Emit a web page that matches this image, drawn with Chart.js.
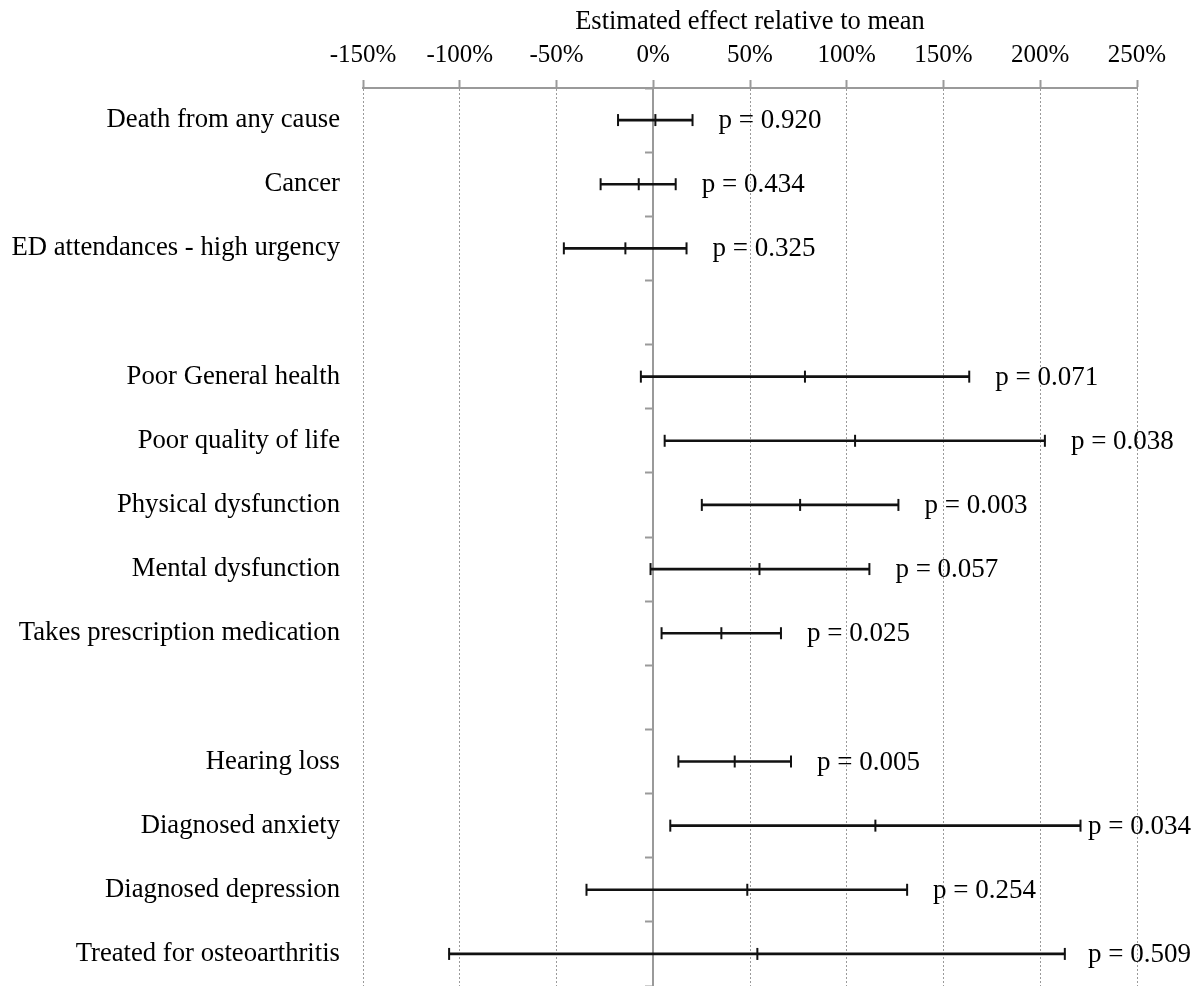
<!DOCTYPE html>
<html>
<head>
<meta charset="utf-8">
<title>Estimated effect relative to mean</title>
<script src="https://cdn.jsdelivr.net/npm/chart.js@4.4.1/dist/chart.umd.min.js"></script>
<style>
    html, body { margin: 0; padding: 0; background: #fff; }
    #wrap { width: 1199px; height: 986px; position: relative; }
</style>
</head>
<body>
<div id="wrap"><canvas id="forestChart"></canvas></div>
<script>
// Forest plot data (percent effect relative to mean)
const categories = [
    'Death from any cause',
    'Cancer',
    'ED attendances - high urgency',
    '',
    'Poor General health',
    'Poor quality of life',
    'Physical dysfunction',
    'Mental dysfunction',
    'Takes prescription medication',
    '',
    'Hearing loss',
    'Diagnosed anxiety',
    'Diagnosed depression',
    'Treated for osteoarthritis'
];
const estimates = [1.1, -7.5, -14.4, null, 78.4, 104.3, 75.9, 54.9, 35.2, null, 42.1, 114.8, 48.6, 53.8];
const lowerCI   = [-18.2, -27.2, -46.2, null, -6.4, 5.9, 25.1, -1.4, 4.3, null, 13.0, 8.8, -34.5, -105.5];
const upperCI   = [20.3, 11.6, 17.2, null, 163.3, 202.4, 126.7, 111.7, 66.0, null, 71.2, 220.8, 131.2, 212.7];
const pValues   = ['0.920', '0.434', '0.325', null, '0.071', '0.038', '0.003', '0.057', '0.025', null, '0.005', '0.034', '0.254', '0.509'];
const xTicks    = [-150, -100, -50, 0, 50, 100, 150, 200, 250];

const SERIF = '"Liberation Serif", "Times New Roman", serif';
const AXIS_GRAY = '#9a9a9a';

// Interval bars built from lower / upper arrays
const intervals = lowerCI.map((lo, i) => (lo === null ? null : [lo, upperCI[i]]));

// Draw "p = ..." next to each upper limit (kept inside the canvas)
const pLabelPlugin = {
    id: 'pLabels',
    afterDatasetsDraw(chart) {
        const { ctx, scales } = chart;
        ctx.save();
        ctx.font = '27px ' + SERIF;
        ctx.fillStyle = '#000';
        ctx.textAlign = 'left';
        ctx.textBaseline = 'middle';
        pValues.forEach((p, i) => {
            if (p === null) return;
            const text = 'p = ' + p;
            const maxX = chart.width - ctx.measureText(text).width - 8;
            const x = Math.min(scales.x.getPixelForValue(upperCI[i]) + 26, maxX);
            const y = scales.y.getPixelForValue(i) + 1;
            ctx.fillText(text, x, y);
        });
        ctx.restore();
    }
};

function markerDataset(values) {
    return {
        type: 'line',
        indexAxis: 'y',
        xAxisID: 'x',
        yAxisID: 'y',
        data: values,
        showLine: false,
        pointStyle: 'line',
        rotation: 90,
        radius: 6,
        hoverRadius: 6,
        borderColor: '#111',
        backgroundColor: '#111',
        borderWidth: 2
    };
}

const ctx = document.getElementById('forestChart');
new Chart(ctx, {
    type: 'bar',
    data: {
        labels: categories,
        datasets: [
            {
                type: 'bar',
                indexAxis: 'y',
                xAxisID: 'x',
                yAxisID: 'y',
                data: intervals,
                backgroundColor: '#111',
                borderWidth: 0,
                barThickness: 2
            },
            markerDataset(lowerCI),
            markerDataset(estimates),
            markerDataset(upperCI)
        ]
    },
    options: {
        indexAxis: 'y',
        responsive: true,
        maintainAspectRatio: false,
        animation: false,
        layout: { autoPadding: false, padding: { top: 0, right: 62, bottom: 0, left: 0 } },
        plugins: {
            legend: { display: false },
            tooltip: { enabled: false }
        },
        scales: {
            x: {
                type: 'linear',
                position: 'top',
                min: -150,
                max: 250,
                offset: false,
                afterBuildTicks: function(scale) {
                    scale.ticks = xTicks.map(v => ({ value: v }));
                },
                afterFit: function(scale) {
                    scale.height = 88;
                },
                ticks: {
                    color: '#000',
                    font: { family: SERIF, size: 25 },
                    padding: 10,
                    callback: function(value) {
                        return value + '%';
                    }
                },
                grid: {
                    offset: false,
                    color: AXIS_GRAY,
                    lineWidth: 1,
                    tickLength: 8,
                    tickColor: AXIS_GRAY,
                    tickWidth: 2,
                    tickBorderDash: []
                },
                border: {
                    display: true,
                    color: AXIS_GRAY,
                    width: 2,
                    dash: [2, 2]
                },
                title: {
                    display: true,
                    text: 'Estimated effect relative to mean',
                    color: '#000',
                    font: { family: SERIF, size: 26.5 },
                    padding: { top: 6, bottom: 0 }
                }
            },
            y: {
                type: 'category',
                position: 'left',
                offset: true,
                afterFit: function(scale) {
                    scale.width = 363;
                    scale.paddingTop = 0;
                    scale.paddingBottom = 0;
                },
                ticks: {
                    color: '#000',
                    font: { family: SERIF, size: 26.7 },
                    padding: 23,
                    autoSkip: false
                },
                grid: { display: false, drawTicks: false, offset: true },
                border: { display: false }
            },
            y0: {
                type: 'category',
                axis: 'y',
                position: { x: 0 },
                offset: true,
                afterFit: function(scale) {
                    scale.paddingTop = 0;
                    scale.paddingBottom = 0;
                },
                ticks: { display: false },
                grid: {
                    offset: true,
                    drawOnChartArea: false,
                    tickLength: 7,
                    tickWidth: 2,
                    tickColor: AXIS_GRAY,
                    color: AXIS_GRAY
                },
                border: { display: true, color: AXIS_GRAY, width: 2 }
            }
        }
    },
    plugins: [pLabelPlugin]
});
</script>
</body>
</html>
